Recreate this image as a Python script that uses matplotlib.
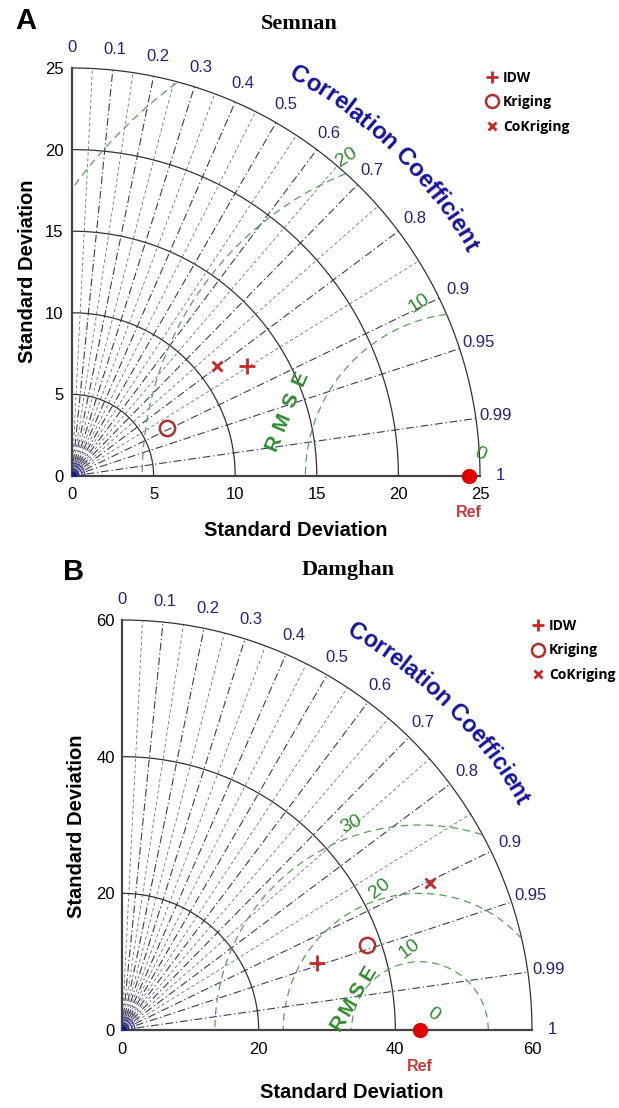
import numpy as np
import matplotlib
matplotlib.use("Agg")
import matplotlib.pyplot as plt
from matplotlib.textpath import TextToPath
from matplotlib.font_manager import FontProperties

# ---------------- data ----------------
models = ["IDW", "Kriging", "CoKriging"]
semnan_std = [12.65, 6.53, 11.17]
semnan_corr = [0.846, 0.893, 0.797]
semnan_ref_std = 24.3
damghan_std = [30.1, 37.9, 49.96]
damghan_corr = [0.946, 0.945, 0.903]
damghan_ref_std = 43.6

corr_ticks = [0.0, 0.1, 0.2, 0.3, 0.4, 0.5, 0.6, 0.7, 0.8, 0.9, 0.95, 0.99, 1.0]
corr_labels = ["0", "0.1", "0.2", "0.3", "0.4", "0.5", "0.6", "0.7", "0.8",
               "0.9", "0.95", "0.99", "1"]
semnan_sd_ticks = [0, 5, 10, 15, 20, 25]
damghan_sd_ticks = [0, 20, 40, 60]
semnan_rmse_levels = [10, 20, 30]
damghan_rmse_levels = [10, 20, 30]
semnan_rmse_labels = ["0", "10", "20"]
damghan_rmse_labels = ["0", "10", "20", "30"]

# ---------------- style ----------------
plt.rcParams["font.family"] = ["Liberation Sans", "DejaVu Sans"]
W, H = 619, 1108
DPI = 100
fig = plt.figure(figsize=(W / DPI, H / DPI), dpi=DPI)

NAVY = "#22227a"
TITLE_BLUE = "#1414a0"
GREEN_TXT = "#2e8b2e"
GREEN_LINE = "#5a9e5a"
LINE_DARK = "#3c3c58"
RED = "#c62828"
MRK = {"IDW": dict(marker="+", ms=11, mew=2.0),
       "Kriging": dict(marker="o", ms=11, mew=1.8, mfc="none"),
       "CoKriging": dict(marker="x", ms=7.5, mew=2.0)}


def fx(px):
    return px / W


def fy(py):
    return 1 - py / H


def curved_text(ax, text, radius, ppu, a_start, a_end, color):
    t2p = TextToPath()
    fp = FontProperties(family="Liberation Sans", weight="bold", size=14)
    wpt = lambda s, f: t2p.get_text_width_height_descent(s, f, ismath=False)[0]
    target_px = radius * np.deg2rad(a_start - a_end) * ppu
    total_px = wpt(text, fp) * DPI / 72
    size = 14 * target_px / total_px
    fp = FontProperties(family="Liberation Sans", weight="bold", size=size)
    hw = wpt("H", fp)
    th0 = np.deg2rad(a_start)
    for i, ch in enumerate(text):
        if ch == " ":
            continue
        left = wpt(text[:i] + "H", fp) - hw if i > 0 else 0.0
        cpx = (left + wpt(ch, fp) / 2) * DPI / 72
        th = th0 - (cpx / ppu) / radius
        ax.text(radius * np.cos(th), radius * np.sin(th), ch, rotation=np.rad2deg(th) - 90,
                ha="center", va="center", fontsize=size, fontweight="bold",
                color=color, clip_on=False, rotation_mode="anchor")


def panel(rect_px, R, sd_ticks, ref, stds, corrs, levels, rmse_labels, cfg):
    x0, y0, side = rect_px  # origin pixel (left, bottom) and side length in px
    ax = fig.add_axes([fx(x0), fy(y0), side / W, side / H])
    ppu = side / R
    ax.set_xlim(0, R)
    ax.set_ylim(0, R)
    for s in ["top", "right"]:
        ax.spines[s].set_visible(False)
    for s in ["left", "bottom"]:
        ax.spines[s].set_color("#444444")
        ax.spines[s].set_linewidth(1.6)
    ax.set_xticks(sd_ticks)
    ax.set_yticks(sd_ticks)
    ax.set_xticklabels([str(t) for t in sd_ticks])
    ax.set_yticklabels([str(t) for t in sd_ticks])
    ax.tick_params(axis="x", length=0, pad=cfg["xpad"], labelsize=12)
    ax.tick_params(axis="y", length=0, pad=cfg["ypad"], labelsize=12)

    th = np.linspace(0, np.pi / 2, 300)
    # std arcs
    for s in sd_ticks[1:]:
        ax.plot(s * np.cos(th), s * np.sin(th), color="#333333", lw=0.9, zorder=2, clip_on=False)
    # correlation rays
    for c in corr_ticks[1:-1]:
        a = np.arccos(c)
        ax.plot([0, R * np.cos(a)], [0, R * np.sin(a)], color=LINE_DARK, lw=0.8,
                ls=(0, (7, 2.5, 1.2, 2.5)), zorder=1)
    for c in np.arange(0.05, 0.9, 0.1):
        a = np.arccos(c)
        ax.plot([0, R * np.cos(a)], [0, R * np.sin(a)], color="#707080", lw=0.6,
                ls=(0, (4, 3)), zorder=1)
    # origin decoration
    for rp in [4, 7, 10, 13]:
        r = rp / ppu
        ax.plot(r * np.cos(th), r * np.sin(th), color="#2a2aa0", lw=0.8, zorder=3)
    ax.plot([0], [0], "o", color="#1a1a90", ms=6, zorder=4)
    # correlation labels
    for c, lab in zip(corr_ticks, corr_labels):
        a = np.arccos(c)
        ax.text(1.05 * R * np.cos(a), 1.05 * R * np.sin(a), lab, ha="center", va="center",
                fontsize=12, color=NAVY, clip_on=False)
    # RMSE contours
    t = np.linspace(0, np.pi, 800)
    for lev in levels:
        xs = ref + lev * np.cos(t)
        ys = lev * np.sin(t)
        ok = (np.hypot(xs, ys) <= R) & (xs >= 0)
        xs = np.where(ok, xs, np.nan)
        ys = np.where(ok, ys, np.nan)
        ax.plot(xs, ys, color=GREEN_LINE, lw=0.9, ls=(0, (6, 4)), zorder=2)
    for lab, (ang, dist, rot) in zip(rmse_labels, cfg["rmse_pos"]):
        a = np.deg2rad(ang)
        ax.text(ref + dist * np.cos(a), dist * np.sin(a), lab, ha="center", va="center",
                rotation=rot, fontsize=14, color=GREEN_TXT, clip_on=False)
    # RMSE word
    (xa, ya), (xb, yb), rot = cfg["rmse_word"]
    for i, ch in enumerate("RMSE"):
        f = i / 3
        ax.text(xa + f * (xb - xa), ya + f * (yb - ya), ch, rotation=rot, ha="center",
                va="center", fontsize=15, fontweight="bold", color=GREEN_TXT)
    # curved title
    curved_text(ax, "Correlation Coefficient", cfg["ct_r"] * R, ppu, cfg["ct_a"][0],
                cfg["ct_a"][1], TITLE_BLUE)
    # reference point
    ax.plot([ref], [0], "o", color="#e00000", ms=10, zorder=6, clip_on=False)
    ax.annotate("Ref", (ref, 0), xytext=(0, -26), textcoords="offset points", ha="center",
                va="center", fontsize=11.5, fontweight="bold", color="#c83a3a")
    # model points
    handles = []
    for m, s, c in zip(models, stds, corrs):
        a = np.arccos(c)
        kw = dict(MRK[m])
        h, = ax.plot([s * np.cos(a)], [s * np.sin(a)], ls="none",
                     color=RED if m != "Kriging" else "#b03030",
                     zorder=7, clip_on=False, **kw)
        handles.append(h)
    lx, ly = cfg["legend"]
    leg = ax.legend(handles, models, loc="upper left", bbox_to_anchor=(fx(lx), fy(ly)),
                    bbox_transform=fig.transFigure, frameon=False, numpoints=1,
                    handlelength=1.0, handletextpad=0.3, labelspacing=0.75, borderpad=0,
                    prop=FontProperties(family="Open Sans", weight="bold", size=10))
    for hh in leg.legend_handles:
        hh.set_markersize(hh.get_markersize() * 0.85)
    return ax


cfgA = dict(xpad=8, ypad=6,
            rmse_pos=[(62, 1.5, -25), (106, 11.0, 33), (111, 20.9, 33)],
            rmse_word=((12.33, 2.02), (13.99, 5.95), 67),
            ct_r=1.128, ct_a=(61.5, 29.5), legend=(478, 64))
cfgB = dict(xpad=9, ypad=5,
            rmse_pos=[(48, 3.0, -35), (97, 12.0, 37), (106, 21.5, 38), (108.5, 31.7, 25)],
            rmse_word=((31.7, 1.0), (36.1, 8.3), 59),
            ct_r=1.125, ct_a=(60.5, 29.5), legend=(524, 612))

panel((72, 476, 408), 25, semnan_sd_ticks, semnan_ref_std, semnan_std, semnan_corr,
      semnan_rmse_levels, semnan_rmse_labels, cfgA)
panel((122, 1030, 410), 60, damghan_sd_ticks, damghan_ref_std, damghan_std, damghan_corr,
      damghan_rmse_levels, damghan_rmse_labels, cfgB)

# panel texts
fig.text(fx(26), fy(21), "A", fontsize=21, fontweight="bold", ha="center", va="center")
fig.text(fx(74), fy(572), "B", fontsize=21, fontweight="bold", ha="center", va="center")
fig.text(fx(299), fy(24), "Semnan", fontsize=16, fontweight="bold", family="Liberation Serif",
         ha="center", va="center")
fig.text(fx(348), fy(570), "Damghan", fontsize=16, fontweight="bold", family="Liberation Serif",
         ha="center", va="center")
for (cx, cy) in [(296, 530), (352, 1093)]:
    fig.text(fx(cx), fy(cy), "Standard Deviation", fontsize=14.5, fontweight="bold",
             ha="center", va="center")
for (cx, cy) in [(28, 271), (77, 826)]:
    fig.text(fx(cx), fy(cy), "Standard Deviation", fontsize=14.5, fontweight="bold",
             ha="center", va="center", rotation=90)

fig.savefig("out.png", dpi=DPI)
